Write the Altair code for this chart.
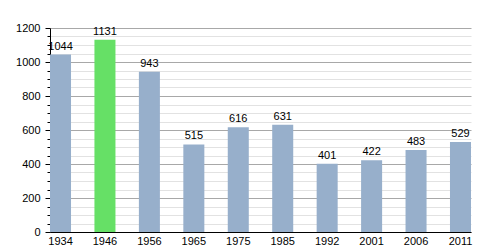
import altair as alt
import pandas as pd

years = ["1934", "1946", "1956", "1965", "1975", "1985", "1992", "2001", "2006", "2011"]
population = [1044, 1131, 943, 515, 616, 631, 401, 422, 483, 529]
highlight_year = "1946"
y_ticks = list(range(0, 1201, 50))

df = pd.DataFrame({"year": years, "value": population})

FONT = "Liberation Sans"
FS = 11

x = alt.X("year:N", sort=years,
          scale=alt.Scale(paddingInner=0.527, paddingOuter=0),
          axis=alt.Axis(title=None, labelAngle=0, ticks=False, grid=False,
                        domainColor="black", labelColor="black",
                        labelFont=FONT, labelFontSize=FS, labelPadding=3))

y = alt.Y("value:Q", scale=alt.Scale(domain=[0, 1200], nice=False),
          axis=alt.Axis(title=None, values=y_ticks, format="d",
                        labelExpr="datum.value % 200 === 0 ? datum.label : ''",
                        labelOverlap=False, labelFont=FONT, labelFontSize=FS,
                        labelColor="black", labelPadding=5,
                        domainColor="black", tickColor="black",
                        tickSize={"condition": {"test": "datum.value % 200 === 0", "value": 5}, "value": 3},
                        gridColor={"condition": {"test": "datum.value % 200 === 0", "value": "#a8a8a8"}, "value": "#e2e2e2"},
                        grid=True))

bars = alt.Chart(df).mark_bar().encode(
    x=x, y=y,
    color=alt.condition(alt.datum.year == highlight_year,
                        alt.value("#66e066"), alt.value("#97afcb")),
)

labels = alt.Chart(df).mark_text(baseline="bottom", dy=-3, font=FONT,
                                 fontSize=FS, color="black").encode(
    x=x, y=y, text="value:Q")

chart = alt.layer(bars, labels).properties(
    width=421, height=204,
    autosize=alt.AutoSizeParams(type="none"),
    padding={"left": 50, "top": 28, "right": 29, "bottom": 18},
    background="white",
).configure_view(stroke=None)

chart.save("out.html", embed_options={"renderer": "svg", "actions": False})
